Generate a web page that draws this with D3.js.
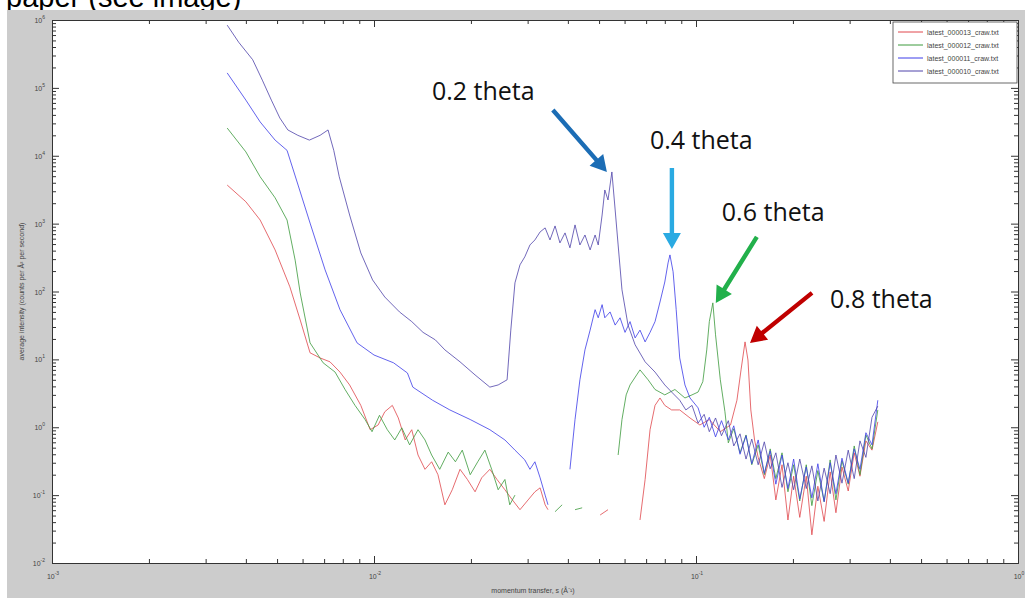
<!DOCTYPE html>
<meta charset="UTF-8">
<style>
body { margin: 0; background: #fff; }
svg { display: block; font-family: "Liberation Sans", Arial, sans-serif; }
.axis path.domain { stroke: #333; stroke-width: 1; }
.axis line { stroke: #333; }
.trace { fill: none; stroke-width: 1; stroke-linejoin: round; stroke-opacity: 0.8; }
.tlabel { font-size: 7px; fill: #444; }
.note { font-family: "Open Sans", sans-serif; font-size: 25px; fill: #111; }
</style>
<body>
<script src="https://d3js.org/d3.v7.min.js"></script>
<script>
// ---- data (momentum transfer q, average intensity) ----
var seriesNames = ["latest_000013_craw.txt", "latest_000012_craw.txt", "latest_000011_craw.txt", "latest_000010_craw.txt"];
var seriesColors = ["#e0474c", "#3c9a3c", "#3c3ce8", "#4f43aa"];

// shared q grid for the noisy high-q part
var qTail = [0.093, 0.0972, 0.1015, 0.106, 0.110, 0.115, 0.120, 0.126, 0.131, 0.137,
  0.143, 0.149, 0.156, 0.163, 0.170, 0.177, 0.185, 0.193, 0.201, 0.210,
  0.220, 0.229, 0.239, 0.250, 0.261, 0.272, 0.284, 0.297, 0.310, 0.323,
  0.337, 0.352, 0.367];

// 0.8 theta (red)
var qRed = [3.5e-3, 4.0e-3, 4.43e-3, 4.93e-3, 5.48e-3, 5.9e-3, 6.33e-3, 6.8e-3, 7.3e-3, 7.84e-3,
  8.4e-3, 9.1e-3, 9.73e-3, 1.03e-2, 1.08e-2, 1.14e-2, 1.19e-2, 1.25e-2, 1.31e-2, 1.37e-2,
  1.44e-2, 1.51e-2, 1.58e-2, 1.66e-2, 1.75e-2, 1.85e-2, 1.95e-2, 2.06e-2, 2.16e-2, 2.29e-2,
  2.41e-2, 2.55e-2, 2.69e-2, 2.84e-2, 3.01e-2, 3.16e-2, 3.28e-2, 3.4e-2, 3.47e-2, 4.2e-2,
  5.04e-2, 5.33e-2, 6.0e-2, 6.7e-2, 6.95e-2, 7.2e-2, 7.46e-2, 7.73e-2, 8.0e-2, 8.4e-2,
  8.9e-2, 9.58e-2, 0.1028, 0.110, 0.119, 0.128, 0.134, 0.138, 0.142, 0.145,
  0.148, 0.152];
var iRed = [3.7e3, 2.1e3, 1.13e3, 410, 117, 38, 12.5, 10.5, 9.2, 6.5,
  4.2, 2.1, 0.92, 1.08, 1.69, 2.1, 1.37, 0.65, 0.92, 0.39,
  0.24, 0.31, 0.20, 0.072, 0.12, 0.24, 0.17, 0.112, 0.18, 0.24,
  0.17, 0.12, 0.085, 0.061, 0.085, 0.112, 0.128, 0.072, 0.061, null,
  0.051, 0.061, null, 0.043, 0.17, 0.92, 2.1, 2.7, 2.1, 1.8,
  1.8, 1.37, 1.08, 1.3, 0.86, 1.08, 2.5, 7.0, 18.1, 9.8,
  1.8, 0.65];
var iRedTail = [0.36, 0.175, 0.39, 0.085, 0.28, 0.043, 0.19, 0.047, 0.19, 0.026,
  0.135, 0.041, 0.22, 0.055, 0.26, 0.115, 0.42, 0.19, 0.63, 0.46, 1.2];

// 0.6 theta (green)
var qGreen = [3.5e-3, 4.0e-3, 4.43e-3, 4.93e-3, 5.37e-3, 5.69e-3, 5.9e-3, 6.33e-3, 6.95e-3, 7.57e-3,
  8.13e-3, 8.73e-3, 9.38e-3, 9.86e-3, 1.04e-2, 1.1e-2, 1.16e-2, 1.22e-2, 1.29e-2, 1.37e-2,
  1.44e-2, 1.51e-2, 1.6e-2, 1.7e-2, 1.79e-2, 1.88e-2, 1.99e-2, 2.1e-2, 2.21e-2, 2.32e-2,
  2.43e-2, 2.55e-2, 2.64e-2, 2.74e-2, 3.2e-2, 3.65e-2, 3.84e-2, 4.0e-2, 4.21e-2, 4.43e-2,
  5.0e-2, 5.73e-2, 5.89e-2, 6.07e-2, 6.24e-2, 6.7e-2, 7.1e-2, 7.46e-2, 8.0e-2, 8.6e-2,
  9.24e-2, 9.72e-2, 0.1015, 0.105, 0.108, 0.110, 0.1128, 0.115, 0.119, 0.123];
var iGreen = [2.56e4, 1.14e4, 4.9e3, 2.4e3, 1.13e3, 290, 95, 17.5, 8.9, 6.5,
  3.6, 2.1, 1.3, 0.86, 1.5, 0.92, 0.65, 0.98, 0.55, 0.92,
  0.65, 0.39, 0.24, 0.43, 0.31, 0.46, 0.20, 0.31, 0.46, 0.24,
  0.12, 0.17, 0.072, 0.10, null, 0.057, 0.072, null, 0.061, 0.065,
  null, 0.39, 1.3, 3.0, 4.2, 7.0, 5.0, 3.6, 3.0, 3.6,
  2.7, 3.0, 3.3, 4.7, 13.8, 36, 68, 23, 5.0, 1.69];
var iGreenTail = [0.59, 0.95, 0.42, 0.77, 0.28, 0.55, 0.20, 0.48, 0.175, 0.42,
  0.112, 0.28, 0.082, 0.28, 0.07, 0.23, 0.080, 0.33, 0.085, 0.32,
  0.145, 0.53, 0.20, 0.77, 0.48, 1.8];

// 0.4 theta (blue)
var qBlue = [3.5e-3, 4.0e-3, 4.43e-3, 4.93e-3, 5.37e-3, 5.81e-3, 6.33e-3, 7.05e-3, 7.84e-3, 8.86e-3,
  1.0e-2, 1.15e-2, 1.27e-2, 1.32e-2, 1.52e-2, 1.72e-2, 1.99e-2, 2.29e-2, 2.55e-2, 2.74e-2,
  2.94e-2, 3.05e-2, 3.16e-2, 3.28e-2, 3.4e-2, 3.47e-2, 3.6e-2, 4.06e-2, 4.21e-2, 4.36e-2,
  4.52e-2, 4.69e-2, 4.86e-2, 4.97e-2, 5.11e-2, 5.21e-2, 5.41e-2, 5.61e-2, 5.81e-2, 6.02e-2,
  6.24e-2, 6.47e-2, 6.7e-2, 6.95e-2, 7.2e-2, 7.46e-2, 7.73e-2, 8.0e-2, 8.19e-2, 8.3e-2,
  8.49e-2, 8.68e-2, 8.9e-2, 9.24e-2, 9.58e-2];
var iBlue = [1.66e5, 6.6e4, 3.15e4, 1.7e4, 1.2e4, 3.7e3, 1.02e3, 208, 54, 17.5,
  11.6, 8.9, 6.3, 3.9, 2.5, 1.8, 1.3, 0.92, 0.65, 0.46,
  0.33, 0.24, 0.31, 0.18, 0.10, 0.072, null, 0.24, 1.3, 5.0,
  13.8, 27, 54, 41, 64, 41, 50, 32, 41, 25,
  36, 20.7, 27, 18.1, 25, 36, 70, 138, 264, 346,
  195, 54, 10.5, 4.2, 2.7];
var iBlueTail = [1.93, 1.0, 1.4, 0.72, 1.25, 0.65, 1.05, 0.40, 0.75, 0.29,
  0.65, 0.21, 0.45, 0.145, 0.39, 0.125, 0.34, 0.088, 0.26, 0.091,
  0.29, 0.080, 0.30, 0.105, 0.35, 0.15, 0.48, 0.24, 0.83, 0.55, 2.5];

// 0.2 theta (dark blue)
var qPurple = [3.5e-3, 3.8e-3, 4.2e-3, 4.5e-3, 4.8e-3, 5.1e-3, 5.4e-3, 5.8e-3, 6.3e-3, 6.8e-3,
  7.2e-3, 7.5e-3, 7.8e-3, 8.4e-3, 9.1e-3, 9.9e-3, 1.08e-2, 1.2e-2, 1.31e-2, 1.42e-2,
  1.55e-2, 1.66e-2, 1.85e-2, 2.06e-2, 2.29e-2, 2.43e-2, 2.59e-2, 2.66e-2, 2.74e-2, 2.84e-2,
  2.94e-2, 3.05e-2, 3.16e-2, 3.28e-2, 3.4e-2, 3.52e-2, 3.65e-2, 3.78e-2, 3.92e-2, 4.06e-2,
  4.21e-2, 4.36e-2, 4.52e-2, 4.69e-2, 4.86e-2, 4.97e-2, 5.11e-2, 5.21e-2, 5.33e-2, 5.48e-2,
  5.61e-2, 5.73e-2, 5.89e-2, 6.15e-2, 6.47e-2, 6.95e-2, 7.46e-2, 8.0e-2, 8.4e-2, 8.9e-2];
var iPurple = [8.4e5, 4.7e5, 2.6e5, 1.3e5, 6.6e4, 3.6e4, 2.4e4, 2.0e4, 1.7e4, 2.0e4,
  2.4e4, 1.2e4, 4.9e3, 1.34e3, 370, 148, 83, 50, 36, 25,
  19.4, 13.8, 9.2, 5.9, 3.9, 4.2, 5.0, 27, 134, 247,
  324, 485, 575, 755, 865, 575, 925, 520, 730, 440,
  957, 485, 680, 410, 680, 485, 1340, 3130, 2230, 5770,
  1590, 485, 106, 32, 16.4, 9.2, 6.5, 4.2, 3.3, 2.5];
var iPurpleTail = [1.8, 2.1, 1.15, 1.55, 0.86, 1.37, 0.75, 1.25, 0.53, 0.8,
  0.34, 0.67, 0.28, 0.61, 0.245, 0.42, 0.13, 0.30, 0.12, 0.34,
  0.125, 0.27, 0.082, 0.25, 0.105, 0.39, 0.15, 0.46, 0.175, 0.63,
  0.36, 1.4, 2.05];

// peak annotations
var peakLabels = ["0.2 theta", "0.4 theta", "0.6 theta", "0.8 theta"];
var peakQ = [5.48e-2, 8.3e-2, 0.1128, 0.142];
var peakI = [5770, 346, 68, 18.1];
var peakColors = ["#1c6db5", "#2aaae2", "#22b04b", "#c00000"];

var xTickExp = [-3, -2, -1, 0];
var yTickExp = [-2, -1, 0, 1, 2, 3, 4, 5, 6];

// ---- build series ----
function build(q, I, tail) {
  var qs = q.concat(qTail.slice(qTail.length - tail.length));
  var is = I.concat(tail);
  return qs.map(function(v, k) { return [v, is[k]]; });
}
var series = [
  build(qRed, iRed, iRedTail),
  build(qGreen, iGreen, iGreenTail),
  build(qBlue, iBlue, iBlueTail),
  build(qPurple, iPurple, iPurpleTail)
];

var W = 1025, H = 598;
var box = {left: 52, top: 20, right: 1018, bottom: 563};

var x = d3.scaleLog().domain([1e-3, 1]).range([box.left, box.right]);
var y = d3.scaleLog().domain([1e-2, 1e6]).range([box.bottom, box.top]);

var svg = d3.select("body").append("svg")
    .attr("width", W)
    .attr("height", H);

// slide caption peeking above the figure
svg.append("text")
    .attr("x", 6).attr("y", 7)
    .style("font-size", "29px")
    .style("fill", "#000")
    .text("paper (see image)");

// figure background
svg.append("rect")
    .attr("x", 7).attr("y", 10)
    .attr("width", W - 7).attr("height", H - 10)
    .attr("fill", "#cccccc");

// axes background
svg.append("rect")
    .attr("x", box.left).attr("y", box.top)
    .attr("width", box.right - box.left).attr("height", box.bottom - box.top)
    .attr("fill", "#fff");

// ---- axes ----
var xMajor = xTickExp.map(function(e) { return Math.pow(10, e); });
var yMajor = yTickExp.map(function(e) { return Math.pow(10, e); });
var isMinor = function(v) { return Math.abs(Math.log10(v) - Math.round(Math.log10(v))) > 1e-6; };
var xMinor = x.ticks().filter(isMinor);
var yMinor = y.ticks().filter(isMinor);

function addAxis(gen, tx, ty, vals, size) {
  svg.append("g")
      .attr("class", "axis")
      .attr("transform", "translate(" + tx + "," + ty + ")")
      .call(gen.tickValues(vals).tickSize(-size).tickSizeOuter(0).tickFormat(""));
}
[[7, xMajor], [4, xMinor]].forEach(function(p) {
  addAxis(d3.axisBottom(x), 0, box.bottom, p[1], p[0]);
  addAxis(d3.axisTop(x), 0, box.top, p[1], p[0]);
});
[[7, yMajor], [4, yMinor]].forEach(function(p) {
  addAxis(d3.axisLeft(y), box.left, 0, p[1], p[0]);
  addAxis(d3.axisRight(y), box.right, 0, p[1], p[0]);
});

// tick labels 10^n
function powLabel(sel, e) {
  sel.append("tspan").text("10");
  sel.append("tspan").attr("dy", -4).style("font-size", "5px").text(e);
}
xTickExp.forEach(function(e, k) {
  svg.append("text").attr("class", "tlabel")
      .attr("x", x(xMajor[k]) + 1).attr("y", box.bottom + 16)
      .attr("text-anchor", "middle")
      .call(powLabel, e);
});
yTickExp.forEach(function(e, k) {
  svg.append("text").attr("class", "tlabel")
      .attr("x", box.left - 7).attr("y", y(yMajor[k]) + 3)
      .attr("text-anchor", "end")
      .call(powLabel, e);
});

// axis titles
svg.append("text").attr("class", "tlabel")
    .attr("x", 533).attr("y", 593)
    .attr("text-anchor", "middle")
    .text("momentum transfer, s (\u00C5\u207B\u00B9)");
svg.append("text").attr("class", "tlabel")
    .attr("transform", "translate(24," + ((box.top + box.bottom) / 2) + ") rotate(-90)")
    .attr("text-anchor", "middle")
    .text("average intensity (counts per \u00C5\u00B2 per second)");

// ---- traces ----
var line = d3.line()
    .defined(function(d) { return d[1] != null; })
    .x(function(d) { return x(d[0]); })
    .y(function(d) { return y(d[1]); });

svg.append("g").selectAll("path")
    .data(series)
  .enter().append("path")
    .attr("class", "trace")
    .attr("stroke", function(d, k) { return seriesColors[k]; })
    .attr("d", line);

// ---- legend ----
var lg = svg.append("g").attr("transform", "translate(893,22)");
lg.append("rect")
    .attr("width", 124).attr("height", 61)
    .attr("fill", "#fff").attr("stroke", "#444").attr("stroke-width", 0.8);
seriesNames.forEach(function(n, k) {
  var yy = 10 + k * 13;
  lg.append("line")
      .attr("x1", 5).attr("x2", 30).attr("y1", yy).attr("y2", yy)
      .attr("stroke", seriesColors[k]);
  lg.append("text").attr("class", "tlabel")
      .attr("x", 34).attr("y", yy + 2.5)
      .text(n);
});

// ---- peak arrows ----
var notes = [
  {tip: [-5, 0], tail: [-54, -62], label: [-175, -72]},
  {tip: [2, -6], tail: [0, -81], label: [-22, -100]},
  {tip: [3, 0], tail: [41, -66], label: [6, -82]},
  {tip: [5, 1], tail: [62, -50], label: [80, -35]}
];

function arrowPath(sx, sy, tx, ty) {
  var dx = tx - sx, dy = ty - sy, len = Math.sqrt(dx * dx + dy * dy);
  var ux = dx / len, uy = dy / len, nx = -uy, ny = ux;
  var hl = 16, hw = 9, sw = 2.2;
  var bx = tx - ux * hl, by = ty - uy * hl;
  var pts = [
    [sx + nx * sw, sy + ny * sw], [bx + nx * sw, by + ny * sw], [bx + nx * hw, by + ny * hw],
    [tx, ty],
    [bx - nx * hw, by - ny * hw], [bx - nx * sw, by - ny * sw], [sx - nx * sw, sy - ny * sw]
  ];
  return "M" + pts.map(function(p) { return p[0].toFixed(1) + "," + p[1].toFixed(1); }).join("L") + "Z";
}

peakLabels.forEach(function(t, k) {
  var o = notes[k];
  var tx = x(peakQ[k]) + o.tip[0], ty = y(peakI[k]) + o.tip[1];
  svg.append("path")
      .attr("d", arrowPath(tx + o.tail[0], ty + o.tail[1], tx, ty))
      .attr("fill", peakColors[k]);
  svg.append("text").attr("class", "note")
      .attr("x", tx + o.label[0]).attr("y", ty + o.label[1])
      .text(t);
});
</script>
</body>
